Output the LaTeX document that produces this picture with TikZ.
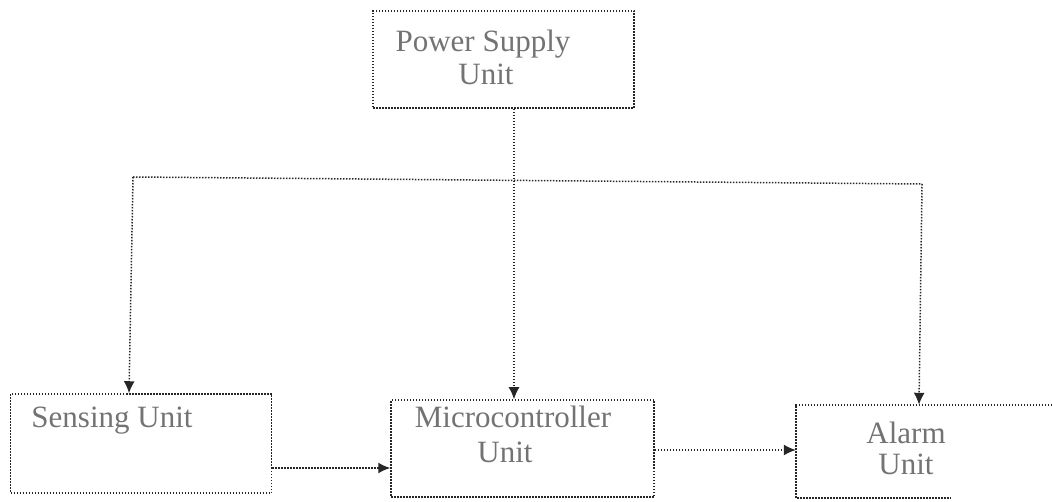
\documentclass[tikz,border=0pt]{standalone}
\usepackage{fontspec}
\setmainfont{Liberation Serif}
\usetikzlibrary{arrows.meta}
\tikzset{
  dotline/.style={draw=black!85, line width=1.5pt, dash pattern=on 1.5pt off 1.5pt},
  blockbox/.style={dotline, rectangle, inner sep=0pt},
  lbl/.style={text=black!55, font=\fontsize{31}{36}\selectfont, inner sep=0pt, anchor=base},
  conn/.style={dotline, -{Latex[length=12pt,width=11pt]}},
}
\begin{document}
\begin{tikzpicture}[x=1pt,y=-1pt]
\useasboundingbox (0,0) rectangle (1052,502);
% boxes
\node[blockbox, minimum width=261pt, minimum height=97pt] (psu) at (503.5,59.5) {};
\node[blockbox, minimum width=261pt, minimum height=99pt] (sens) at (141,443.5) {};
\node[blockbox, minimum width=263pt, minimum height=97pt] (mcu) at (522.5,448.5) {};
\node[rectangle, inner sep=0pt, minimum width=256pt, minimum height=93pt] (alarm) at (924,451.5) {};
% open border of the alarm unit
\draw[dotline] (alarm.north east) -- (alarm.north west) -- (alarm.south west) -- ([xshift=-102pt]alarm.south east);
% texts
\node[lbl] (t1) at (483,52) {Power Supply};
\node[lbl] (t2) at (486,85) {Unit};
\node[lbl] (t3) at (112,428) {Sensing Unit};
\node[lbl] (t4) at (513,427) {Microcontroller};
\node[lbl] (t5) at (505,462) {Unit};
\node[lbl] (t6) at (906,443) {Alarm};
\node[lbl] (t7) at (906,474) {Unit};
% bus
\coordinate (busL) at (133,177);
\coordinate (busR) at (922,184);
\draw[dotline] (busL) -- (busR);
\draw[conn] (psu.south -| 514,0) -- (mcu.north -| 514,0);
\draw[conn] (busL) -- (sens.north -| 129,0);
\draw[conn] (busR) -- (alarm.north -| 919,0);
\draw[conn] (sens.east |- 0,468) -- (mcu.west |- 0,468);
\draw[conn] (mcu.east |- 0,450) -- (alarm.west |- 0,450);
\end{tikzpicture}
\end{document}
